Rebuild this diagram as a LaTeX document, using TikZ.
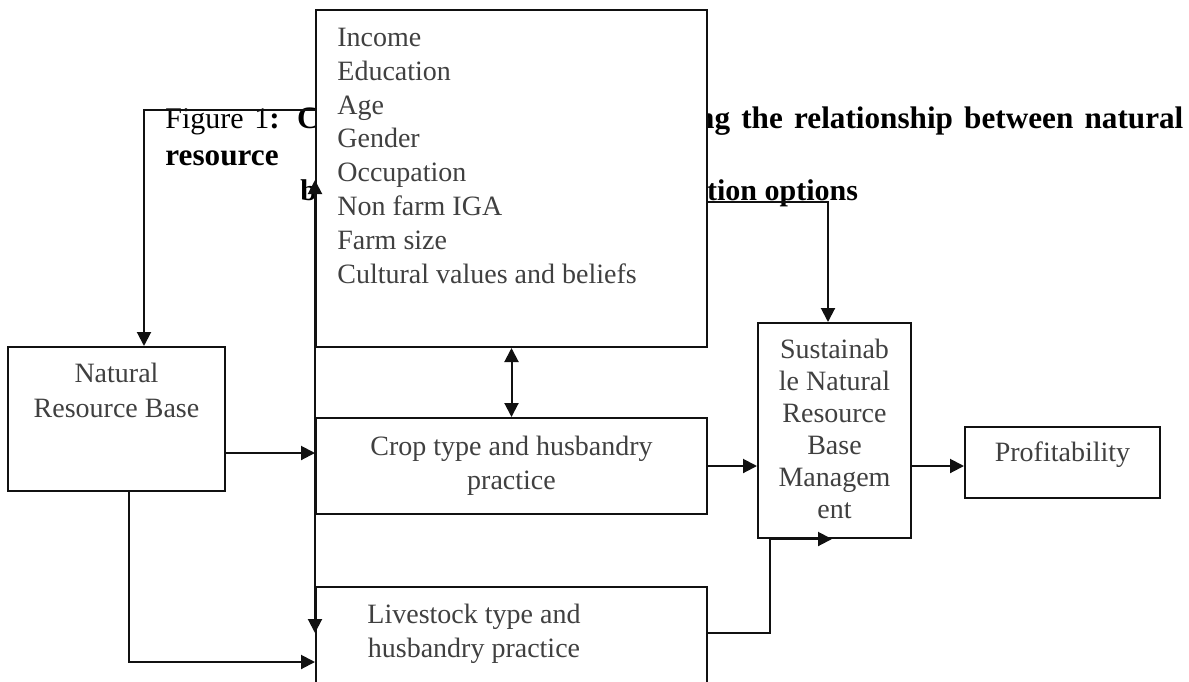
\documentclass[tikz,border=0pt]{standalone}
\usepackage{fontspec}
\setmainfont{Liberation Serif}
\usetikzlibrary{arrows.meta,calc,positioning}
\definecolor{lineC}{HTML}{111111}
\definecolor{txtC}{HTML}{404040}
\tikzset{
  box/.style={draw=lineC, line width=1pt, fill=white, inner sep=0pt},
  txt/.style={text=txtC, font=\fontsize{14}{16.75}\selectfont, inner sep=0pt, align=center, anchor=base},
  ttl/.style={font=\fontsize{15}{18.5}\selectfont, inner sep=0pt, anchor=base west},
  arr/.style={-{Triangle[length=7pt,width=7pt]}, draw=lineC, line width=1pt},
  dbl/.style={{Triangle[length=7pt,width=7pt]}-{Triangle[length=7pt,width=7pt]}, draw=lineC, line width=1pt},
}

\begin{document}
\begin{tikzpicture}[x=0.5pt,y=-0.5pt]
\path[use as bounding box, clip] (0,0) rectangle (1189,681);
\node[ttl, text width=509pt, align=justify, font=\fontsize{15.6}{18.5}\selectfont] (ttlA) at (165,128)
  {{\fontsize{15}{18.5}\selectfont Figure 1}\textbf{: Conceptual framework showing the relationship between natural}\linebreak\textbf{resource}};
\node[ttl] (ttlB) at (300,200) {\textbf{base and climate change adaptation options}};
\node[box, minimum width=195.5pt, minimum height=168.5pt] (fac) at (511.5,178.5) {};
\node[box, minimum width=108.5pt, minimum height=72pt] (nat) at (116.5,419) {};
\node[box, minimum width=195.5pt, minimum height=48pt] (crop) at (511.5,466) {};
\node[box, minimum width=195.5pt, minimum height=56.5pt] (live) at (511.5,643.5) {};
\node[box, minimum width=76.5pt, minimum height=107.5pt] (sust) at (834.5,430.5) {};
\node[box, minimum width=97.5pt, minimum height=35.5pt] (prof) at (1062.5,462.5) {};
\node[txt, anchor=base west, align=left, font=\fontsize{14}{16.9}\selectfont] (facT) at (337,283)
  {Income\\Education\\Age\\Gender\\Occupation\\Non farm IGA\\Farm size\\Cultural values and beliefs};
\node[txt, font=\fontsize{14}{17.5}\selectfont] (natT) at (116.5,417) {Natural\\Resource Base};
\node[txt] (cropT) at (511.5,489) {Crop type and husbandry\\practice};
\node[txt] (liveT) at (474,657) {Livestock type and\\husbandry practice};
\node[txt, font=\fontsize{14}{16}\selectfont] (sustT) at (834.5,518) {Sustainab\\le Natural\\Resource\\Base\\Managem\\ent};
\node[txt] (profT) at (1062.5,461) {Profitability};
\draw[arr] ([yshift=34.25pt]fac.west) -| ([xshift=13.75pt]nat.north);
\draw[arr] ([yshift=-11.75pt]fac.east) -| ([xshift=-3.25pt]sust.north);
\draw[dbl] (fac.south) -- (crop.north);
\draw[dbl] ([yshift=-0.75pt]fac.west) -- ([yshift=5.25pt]live.west);
\draw[arr] ([yshift=-17pt]nat.east) -- ([yshift=-17pt]nat.east -| crop.west);
\draw[arr] ([xshift=6.25pt]nat.south) |- ([yshift=-9.25pt]live.west);
\draw[arr] (crop.east) -- (crop.east -| sust.west);
\draw[arr] (crop.east -| sust.east) -- (crop.east -| prof.west);
\draw[arr] ([yshift=5.25pt]live.east) -| ([xshift=6.5pt]sust.south west) -- ([xshift=37.5pt]sust.south west);
\end{tikzpicture}
\end{document}
